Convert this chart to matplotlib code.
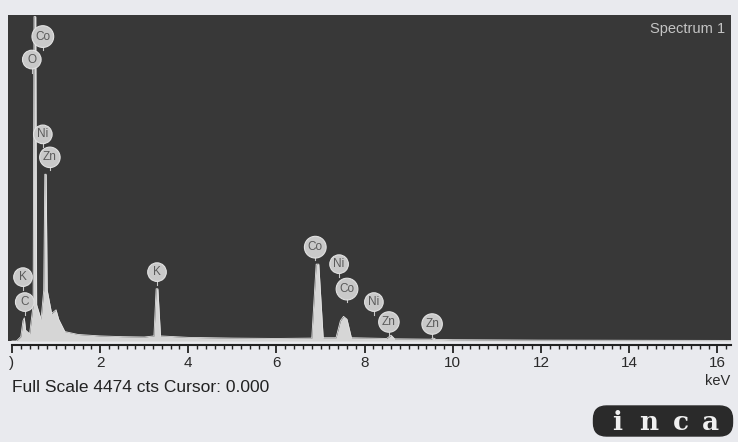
import matplotlib.pyplot as plt
from matplotlib.patches import FancyBboxPatch
from matplotlib.ticker import MultipleLocator

# spectrum outline (keV, counts)
energy = [0.0, 0.10, 0.20, 0.25, 0.28, 0.31, 0.40, 0.48, 0.50, 0.54, 0.56, 0.66,
          0.72, 0.745, 0.775, 0.80, 0.90, 1.00, 1.06, 1.20, 1.50, 2.00, 2.50, 3.00,
          3.22, 3.27, 3.31, 3.37, 4.00, 5.00, 6.00, 6.80, 6.90, 6.96, 7.06, 7.35,
          7.45, 7.52, 7.60, 7.70, 8.50, 8.60, 8.68, 9.50, 9.56, 9.62, 10.0, 12.0, 16.3]
counts = [0, 0, 60, 280, 320, 150, 100, 500, 4474, 4474, 500, 300,
          700, 2300, 2300, 700, 380, 430, 300, 130, 90, 70, 60, 55,
          70, 720, 720, 70, 50, 40, 35, 40, 1060, 1060, 45, 45,
          280, 340, 300, 45, 35, 80, 30, 25, 40, 22, 18, 12, 8]

full_scale = 4474

# element markers (label, keV, counts)
marker_names = ['Co', 'O', 'Ni', 'Zn', 'K', 'C', 'K', 'Co', 'Ni', 'Co', 'Ni', 'Zn', 'Zn']
marker_kev = [0.70, 0.45, 0.70, 0.86, 0.25, 0.29, 3.29, 6.88, 7.42, 7.60, 8.21, 8.55, 9.53]
marker_cts = [4199, 3882, 2850, 2533, 881, 537, 950, 1294, 1060, 716, 537, 262, 234]

tick_kev = [0, 2, 4, 6, 8, 10, 12, 14, 16]
tick_labels = [')', '2', '4', '6', '8', '10', '12', '14', '16']

plt.rcParams['font.family'] = ['Liberation Sans', 'DejaVu Sans']

fig = plt.figure(figsize=(7.38, 4.42), dpi=100)
fig.patch.set_facecolor('#e9eaee')
ax = fig.add_axes([8 / 738, 101 / 442, 723 / 738, 326 / 442])
ax.set_facecolor('#383838')

ax.fill_between(energy, counts, 0, color='#d6d6d6', lw=0)
ax.plot(energy, counts, color='#e4e4e4', lw=0.6)

for name, x, y in zip(marker_names, marker_kev, marker_cts):
    ax.plot([x, x], [y - 180, y], color='#c8c8c8', lw=0.8, zorder=3)
    ax.text(x, y, name, ha='center', va='center', fontsize=8.5, color='#5a5a5a',
            zorder=4,
            bbox=dict(boxstyle='circle,pad=0.28', fc='#c9c9c9', ec='#e2e2e2', lw=0.8))

ax.text(0.992, 0.98, 'Spectrum 1', transform=ax.transAxes, ha='right', va='top',
        fontsize=10.5, color='#c4c4c4')

ax.set_xlim(-0.09, 16.31)
ax.set_ylim(0, full_scale * 1.005)
ax.set_yticks([])
for side in ['left', 'right', 'top']:
    ax.spines[side].set_visible(False)
ax.spines['bottom'].set_position(('outward', 3))
ax.spines['bottom'].set_bounds(0, 16.3)
ax.spines['bottom'].set_color('#222222')
ax.spines['bottom'].set_linewidth(1.5)
ax.set_xticks(tick_kev)
ax.set_xticklabels(tick_labels, fontsize=11, color='#2a2a2a')
ax.xaxis.set_minor_locator(MultipleLocator(0.2))
ax.tick_params(axis='x', which='major', direction='out', length=6, width=1.3,
               color='#222222', pad=2)
ax.tick_params(axis='x', which='minor', direction='out', length=3, width=1.0,
               color='#222222')

fig.text(718 / 738, 1 - 381 / 442, 'keV', ha='center', va='center', fontsize=10.5,
         color='#2a2a2a')
fig.text(12 / 738, 1 - 388 / 442, 'Full Scale 4474 cts Cursor: 0.000', ha='left',
         va='center', fontsize=12.5, color='#222222')

# inca logo, drawn in its own pixel-sized axes
lax = fig.add_axes([592 / 738, 1 - 438 / 442, 142 / 738, 34 / 442])
lax.set_xlim(0, 142)
lax.set_ylim(0, 34)
lax.axis('off')
lax.add_patch(FancyBboxPatch((1.5, 2), 139, 30,
                             boxstyle='round,pad=0,rounding_size=13',
                             fc='#2a2a2a', ec='#2a2a2a'))
for ch, px in zip('inca', [25, 57, 89, 118]):
    lax.text(px, 16, ch, ha='center', va='center', fontsize=19,
             family='DejaVu Serif', weight='bold', color='#f0f0f0')

fig.savefig('out.png', dpi=100, facecolor=fig.get_facecolor())
